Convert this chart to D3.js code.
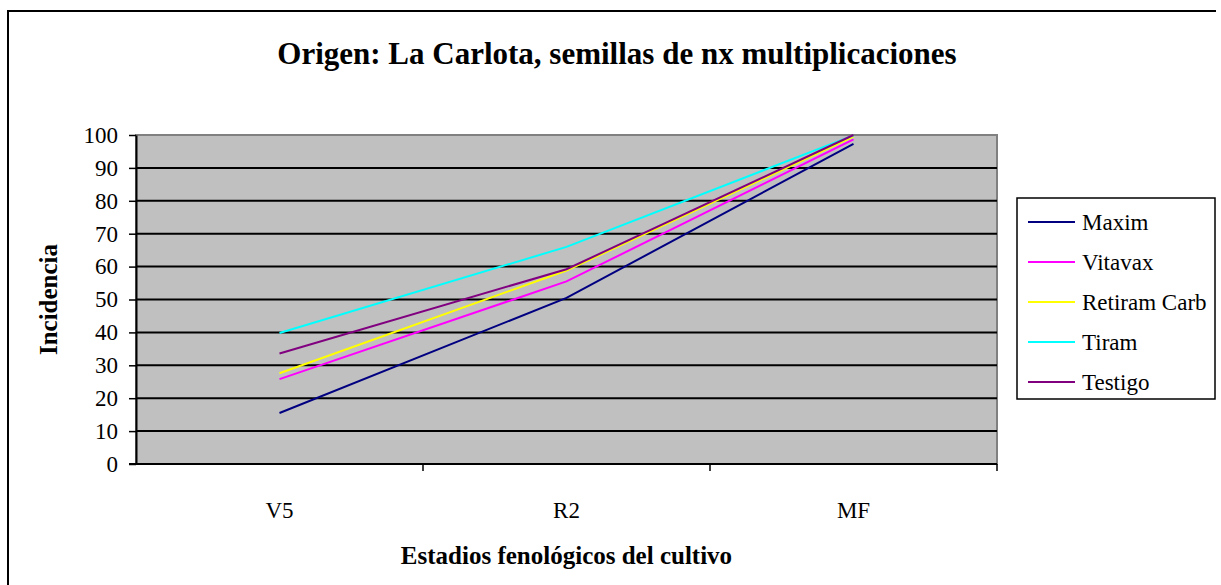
<!DOCTYPE html>
<html>
<head>
<meta charset="utf-8">
<script src="https://cdn.jsdelivr.net/npm/d3@7"></script>
<style>
  body { margin: 0; background: #fff; }
  svg text { font-family: "Liberation Serif", "Times New Roman", serif !important; fill: #000; }
</style>
</head>
<body>
<div id="chart"></div>
<script>
// chart data
var stages = ['V5', 'R2', 'MF'];
var seriesNames = ['Maxim', 'Vitavax', 'Retiram Carb', 'Tiram', 'Testigo'];
var seriesColors = ['#000080', '#ff00ff', '#ffff00', '#00ffff', '#800080'];
var maxim = [15.5, 50.5, 97.3];
var vitavax = [25.8, 55.5, 98.7];
var retiramCarb = [27.6, 58.8, 99.5];
var tiram = [39.8, 66, 99.9];
var testigo = [33.6, 59.2, 100];
var yTicks = [0, 10, 20, 30, 40, 50, 60, 70, 80, 90, 100];

var seriesValues = [maxim, vitavax, retiramCarb, tiram, testigo];

var W = 1221, H = 585;
var plot = { left: 136, right: 997, top: 135, bottom: 464 };

var svg = d3.select('#chart').append('svg')
  .attr('width', W)
  .attr('height', H);

// outer frame (right/bottom edges fall outside the picture)
svg.append('path')
  .attr('d', 'M8,' + (H + 5) + 'V11H1216')
  .attr('fill', 'none')
  .attr('stroke', '#000')
  .attr('stroke-width', 2);

var x = d3.scaleBand()
  .domain(stages)
  .range([plot.left, plot.right]);

var y = d3.scaleLinear()
  .domain([0, 100])
  .range([plot.bottom, plot.top]);

// plot background
svg.append('rect')
  .attr('x', plot.left)
  .attr('y', plot.top)
  .attr('width', plot.right - plot.left)
  .attr('height', plot.bottom - plot.top)
  .attr('fill', '#c0c0c0')
  .attr('stroke', '#808080')
  .attr('stroke-width', 2);

// gridlines
svg.append('g').selectAll('line')
  .data(yTicks.filter(function(d) { return d > 0 && d < 100; }))
  .enter().append('line')
  .attr('x1', plot.left)
  .attr('x2', plot.right)
  .attr('y1', function(d) { return y(d); })
  .attr('y2', function(d) { return y(d); })
  .attr('stroke', '#000')
  .attr('stroke-width', 2);

// y axis
var yAxis = svg.append('g')
  .attr('transform', 'translate(' + plot.left + ',0)')
  .call(d3.axisLeft(y).tickValues(yTicks).tickSize(7).tickPadding(11).tickSizeOuter(0));
yAxis.attr('font-family', null).attr('font-size', null);
yAxis.select('.domain').attr('stroke', '#000').attr('stroke-width', 2);
yAxis.selectAll('.tick line').attr('stroke', '#000').attr('stroke-width', 1.5);
yAxis.selectAll('.tick text')
  .attr('font-size', 23)
  .attr('fill', '#000');

// x axis with ticks between categories
var xAxis = svg.append('g')
  .attr('transform', 'translate(0,' + plot.bottom + ')');
xAxis.append('line')
  .attr('x1', plot.left - 7)
  .attr('x2', plot.right)
  .attr('stroke', '#000')
  .attr('stroke-width', 2);
xAxis.selectAll('line.tk')
  .data(stages)
  .enter().append('line')
  .attr('class', 'tk')
  .attr('x1', function(d) { return x(d) + x.bandwidth(); })
  .attr('x2', function(d) { return x(d) + x.bandwidth(); })
  .attr('y1', 0)
  .attr('y2', 7)
  .attr('stroke', '#000')
  .attr('stroke-width', 1.5);
xAxis.selectAll('text')
  .data(stages)
  .enter().append('text')
  .attr('x', function(d) { return x(d) + x.bandwidth() / 2; })
  .attr('y', 54)
  .attr('text-anchor', 'middle')
  .attr('font-size', 23)
  .text(function(d) { return d; });

// series lines
var line = d3.line()
  .x(function(d, i) { return x(stages[i]) + x.bandwidth() / 2; })
  .y(function(d) { return y(d); });

svg.append('g').selectAll('path')
  .data(seriesValues)
  .enter().append('path')
  .attr('d', line)
  .attr('fill', 'none')
  .attr('stroke', function(d, i) { return seriesColors[i]; })
  .attr('stroke-width', 2);

// titles
svg.append('text')
  .attr('x', 617)
  .attr('y', 64)
  .attr('text-anchor', 'middle')
  .attr('font-size', 31)
  .attr('font-weight', 'bold')
  .text('Origen: La Carlota, semillas de nx multiplicaciones');

svg.append('text')
  .attr('x', (plot.left + plot.right) / 2)
  .attr('y', 564)
  .attr('text-anchor', 'middle')
  .attr('font-size', 25)
  .attr('font-weight', 'bold')
  .text('Estadios fenológicos del cultivo');

svg.append('text')
  .attr('transform', 'translate(57,' + ((plot.top + plot.bottom) / 2) + ') rotate(-90)')
  .attr('text-anchor', 'middle')
  .attr('font-size', 25)
  .attr('font-weight', 'bold')
  .text('Incidencia');

// legend
var legend = svg.append('g').attr('transform', 'translate(1017,198)');
legend.append('rect')
  .attr('width', 198)
  .attr('height', 201)
  .attr('fill', '#fff')
  .attr('stroke', '#000')
  .attr('stroke-width', 1.5);
var items = legend.selectAll('g.item')
  .data(seriesNames)
  .enter().append('g')
  .attr('class', 'item')
  .attr('transform', function(d, i) { return 'translate(0,' + (24 + i * 40) + ')'; });
items.append('line')
  .attr('x1', 11)
  .attr('x2', 58)
  .attr('stroke', function(d, i) { return seriesColors[i]; })
  .attr('stroke-width', 2);
items.append('text')
  .attr('x', 65)
  .attr('y', 8)
  .attr('font-size', 23)
  .text(function(d) { return d; });
</script>
</body>
</html>
